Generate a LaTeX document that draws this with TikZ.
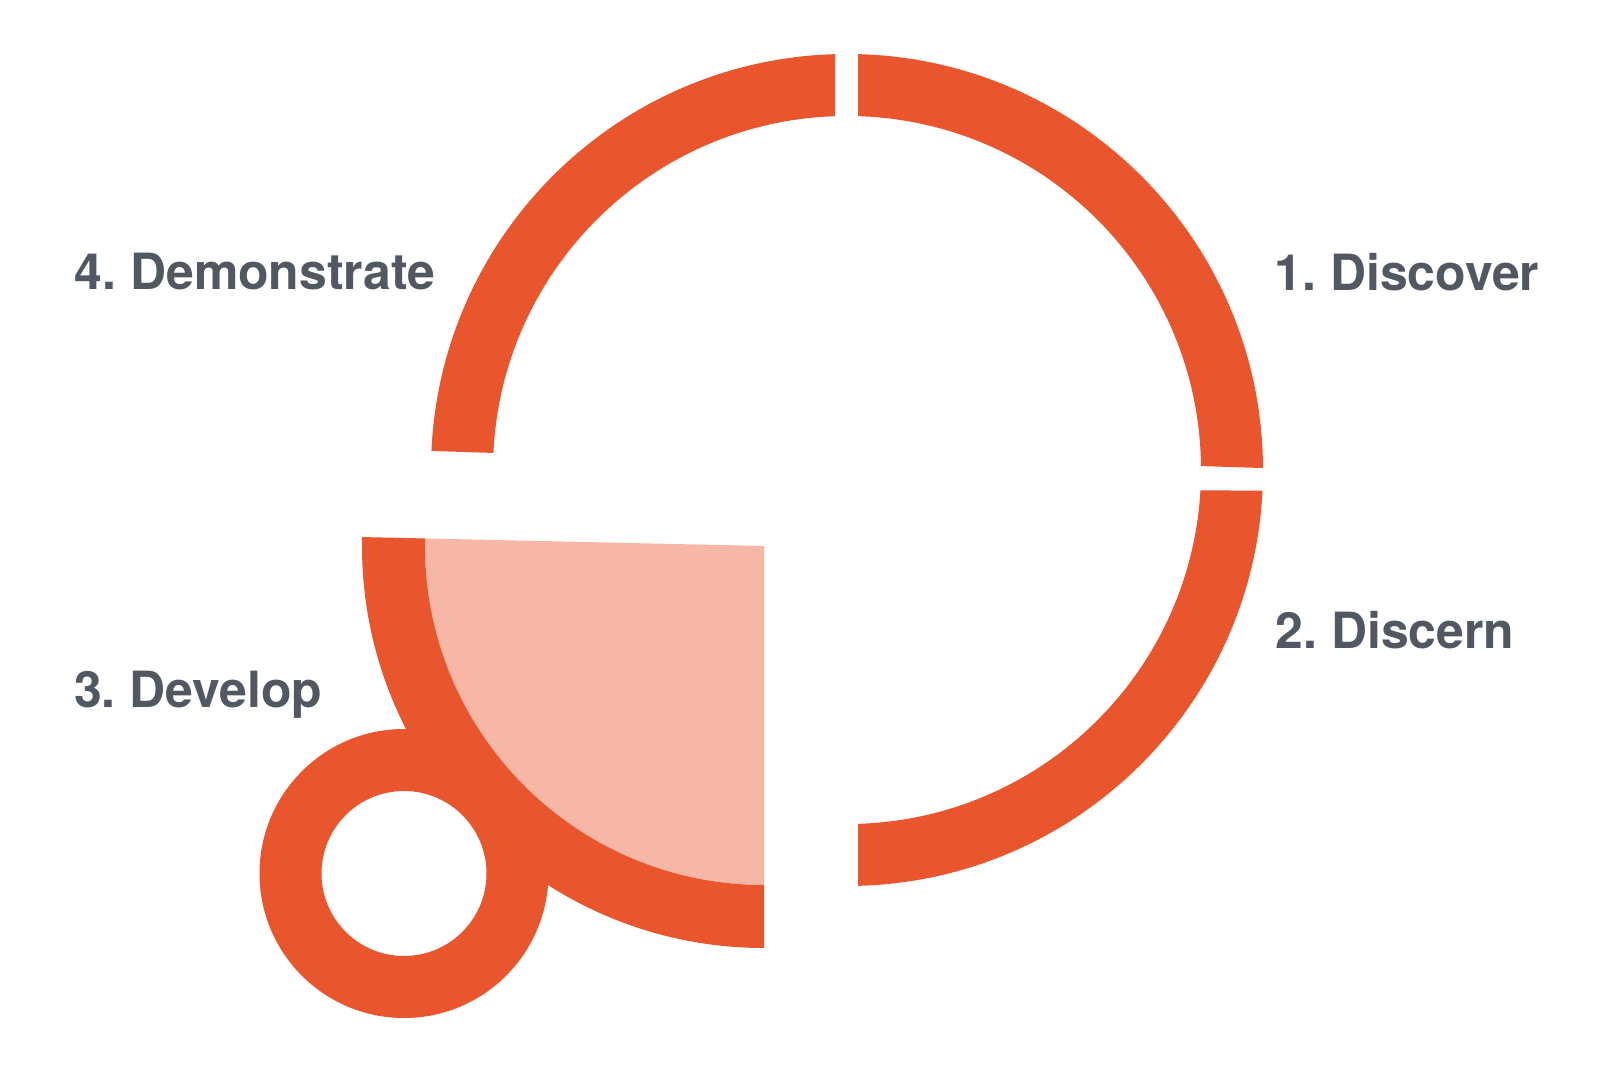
\documentclass[tikz,border=0pt]{standalone}
\usepackage{fontspec}
\setmainfont{TeX Gyre Heros}
\usepackage{tikz}
\definecolor{ringorange}{HTML}{E9552D}
\definecolor{lightsalmon}{HTML}{F6B7A6}
\definecolor{labelgray}{HTML}{515862}
\frenchspacing

\begin{document}
\begin{tikzpicture}[
    x=0.01cm, y=-0.01cm,
    phase/.style={anchor=base west, inner sep=0pt, text=labelgray,
                  font=\fontsize{14.2}{16}\selectfont\bfseries},
    ring/.style={fill=ringorange, even odd rule},
    core/.style={fill=lightsalmon}
]

% --- canvas ---
\useasboundingbox (0,0) rectangle (1602,1067);

% --- centres ---
\coordinate (c) at (847,470);
\coordinate (c3) at (764,546);
\coordinate (cs) at (404,873.5);

% --- quadrant 1 (top right) ---
\begin{scope}
  \clip (858,0) -- (1602,0) -- (1602,479) -- (858,455) -- cycle;
  \fill[ring] (c) circle (416) (c) circle (354);
\end{scope}

% --- quadrant 2 (bottom right) ---
\begin{scope}
  \clip (858,489) -- (1602,492) -- (1602,1067) -- (858,1067) -- cycle;
  \fill[ring] (c) circle (416) (c) circle (354);
\end{scope}

% --- quadrant 4 (top left) ---
\begin{scope}
  \clip (0,0) -- (835,0) -- (835,464) -- (0,437) -- cycle;
  \fill[ring] (c) circle (416) (c) circle (354);
\end{scope}

% --- small ring ---
\fill[ring] (cs) circle (144.5) (cs) circle (82.5);

% --- quadrant 3 (pulled out, filled) ---
\begin{scope}
  \clip (c3) -- (0,529) -- (0,1067) -- (764,1067) -- cycle;
  \fill[core] (c3) circle (339);
  \fill[ring] (c3) circle (402) (c3) circle (339);
\end{scope}

% --- labels ---
\node[phase] (discover) at (1274,291) {1. Discover};
\node[phase] (discern) at (1275,649) {2. Discern};
\node[phase] (develop) at (73.5,708) {3. Develop};
\node[phase] (demonstrate) at (74,290) {4. Demonstrate};

\end{tikzpicture}
\end{document}
